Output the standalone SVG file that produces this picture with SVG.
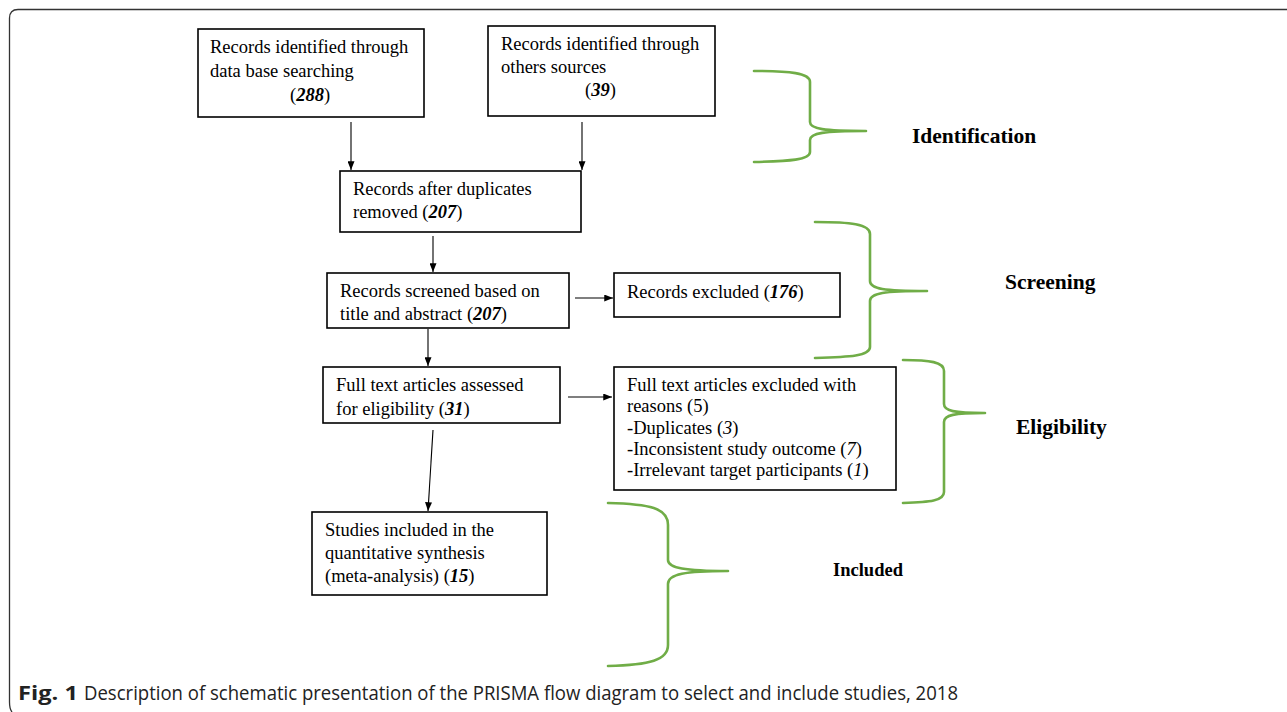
<svg xmlns="http://www.w3.org/2000/svg" width="1287" height="712" viewBox="0 0 1287 712">
<defs>
<style>
.box{fill:#fff;stroke:#000;stroke-width:1.6}
.t{font-family:"Liberation Serif","Times New Roman",serif;font-size:18.5px;fill:#000}
.bi{font-weight:bold;font-style:italic}
.i{font-style:italic}
.hd{font-family:"Liberation Serif","Times New Roman",serif;font-weight:bold;font-size:21.5px;fill:#000}
.br{fill:none;stroke:#70AD47;stroke-width:2.6;stroke-linecap:round;stroke-linejoin:round}
.ar{fill:none;stroke:#000;stroke-width:1.1}
.cap{font-family:"Open Sans","Noto Sans","Liberation Sans",sans-serif;font-size:20px;fill:#222}
</style>
<marker id="ah" viewBox="0 0 10 8" refX="10" refY="4" markerWidth="9" markerHeight="7" markerUnits="userSpaceOnUse" orient="auto">
<path d="M0,0 L10,4 L0,8 Z" fill="#000"/>
</marker>
</defs>
<rect width="1287" height="712" fill="#fff"/>
<path d="M1287,9.5 L18,9.5 Q9.5,9.5 9.5,18 L9.5,702 Q9.5,709 12,712" fill="none" stroke="#333" stroke-width="1.3"/>

<g id="n1">
<rect class="box" x="198" y="29" width="226" height="88"/>
<text class="t" x="210" y="53">Records identified through</text>
<text class="t" x="210" y="77">data base searching</text>
<text class="t" x="290" y="101">(<tspan class="bi">288</tspan>)</text>
</g>
<g id="n2">
<rect class="box" x="488" y="26" width="227" height="90"/>
<text class="t" x="501" y="50">Records identified through</text>
<text class="t" x="501" y="73">others sources</text>
<text class="t" x="585" y="96">(<tspan class="bi">39</tspan>)</text>
</g>
<g id="n3">
<rect class="box" x="340" y="171" width="241" height="61"/>
<text class="t" x="353" y="195">Records after duplicates</text>
<text class="t" x="353" y="218">removed (<tspan class="bi">207</tspan>)</text>
</g>
<g id="n4">
<rect class="box" x="327" y="273" width="242" height="55"/>
<text class="t" x="340" y="297">Records screened based on</text>
<text class="t" x="340" y="320">title and abstract (<tspan class="bi">207</tspan>)</text>
</g>
<g id="n5">
<rect class="box" x="614" y="273" width="226" height="44"/>
<text class="t" x="627" y="298">Records excluded (<tspan class="bi">176</tspan>)</text>
</g>
<g id="n6">
<rect class="box" x="323" y="367" width="237" height="56"/>
<text class="t" x="336" y="391">Full text articles assessed</text>
<text class="t" x="336" y="415">for eligibility (<tspan class="bi">31</tspan>)</text>
</g>
<g id="n7">
<rect class="box" x="614" y="367" width="282" height="123"/>
<text class="t" x="627" y="391">Full text articles excluded with</text>
<text class="t" x="627" y="412">reasons (5)</text>
<text class="t" x="627" y="434">-Duplicates (<tspan class="i">3</tspan>)</text>
<text class="t" x="627" y="455">-Inconsistent study outcome (<tspan class="i">7</tspan>)</text>
<text class="t" x="627" y="476">-Irrelevant target participants (<tspan class="i">1</tspan>)</text>
</g>
<g id="n8">
<rect class="box" x="312" y="512" width="235" height="83"/>
<text class="t" x="325" y="536">Studies included in the</text>
<text class="t" x="325" y="559">quantitative synthesis</text>
<text class="t" x="325" y="582">(meta-analysis) (<tspan class="bi">15</tspan>)</text>
</g>

<g id="connectors">
<line class="ar" x1="351" y1="122" x2="351" y2="170" marker-end="url(#ah)"/>
<line class="ar" x1="582" y1="122" x2="582" y2="170" marker-end="url(#ah)"/>
<line class="ar" x1="433" y1="236" x2="433" y2="272" marker-end="url(#ah)"/>
<line class="ar" x1="575" y1="298" x2="613" y2="298" marker-end="url(#ah)"/>
<line class="ar" x1="428" y1="329" x2="428" y2="366" marker-end="url(#ah)"/>
<line class="ar" x1="568" y1="397" x2="612" y2="397" marker-end="url(#ah)"/>
<line class="ar" x1="433" y1="430" x2="428" y2="511" marker-end="url(#ah)"/>
</g>

<g id="identification">
<path class="br" d="M754,71 C790,71 810,73 810,82 L810,122 C810,129 824,131 866,131 C824,131 810,133 810,140 L810,152 C810,160 790,161 754,162"/>
<text class="hd" x="912" y="143">Identification</text>
</g>
<g id="screening">
<path class="br" d="M815,222 C850,222 870,224 870,234 L870,281 C870,289 884,291 927,291 C884,291 870,293 870,301 L870,347 C870,356 850,357 815,358"/>
<text class="hd" x="1005" y="289">Screening</text>
</g>
<g id="eligibility">
<path class="br" d="M903,360 C930,360 944,362 944,371 L944,404 C944,411 954,413 985,413 C954,413 944,415 944,422 L944,492 C944,501 930,502 903,503"/>
<text class="hd" x="1016" y="434">Eligibility</text>
</g>
<g id="included">
<path class="br" d="M608,503 C650,504 668,508 668,525 L668,560 C668,568 685,571 728,571 C685,571 668,574 668,584 L668,645 C668,660 650,665 608,666"/>
<text class="hd" x="833" y="576" style="font-size:18.5px">Included</text>
</g>

<text class="cap" x="18" y="700" font-weight="bold" textLength="60" lengthAdjust="spacingAndGlyphs">Fig. 1</text>
<text class="cap" x="84" y="700" textLength="874" lengthAdjust="spacingAndGlyphs">Description of schematic presentation of the PRISMA flow diagram to select and include studies, 2018</text>
</svg>
